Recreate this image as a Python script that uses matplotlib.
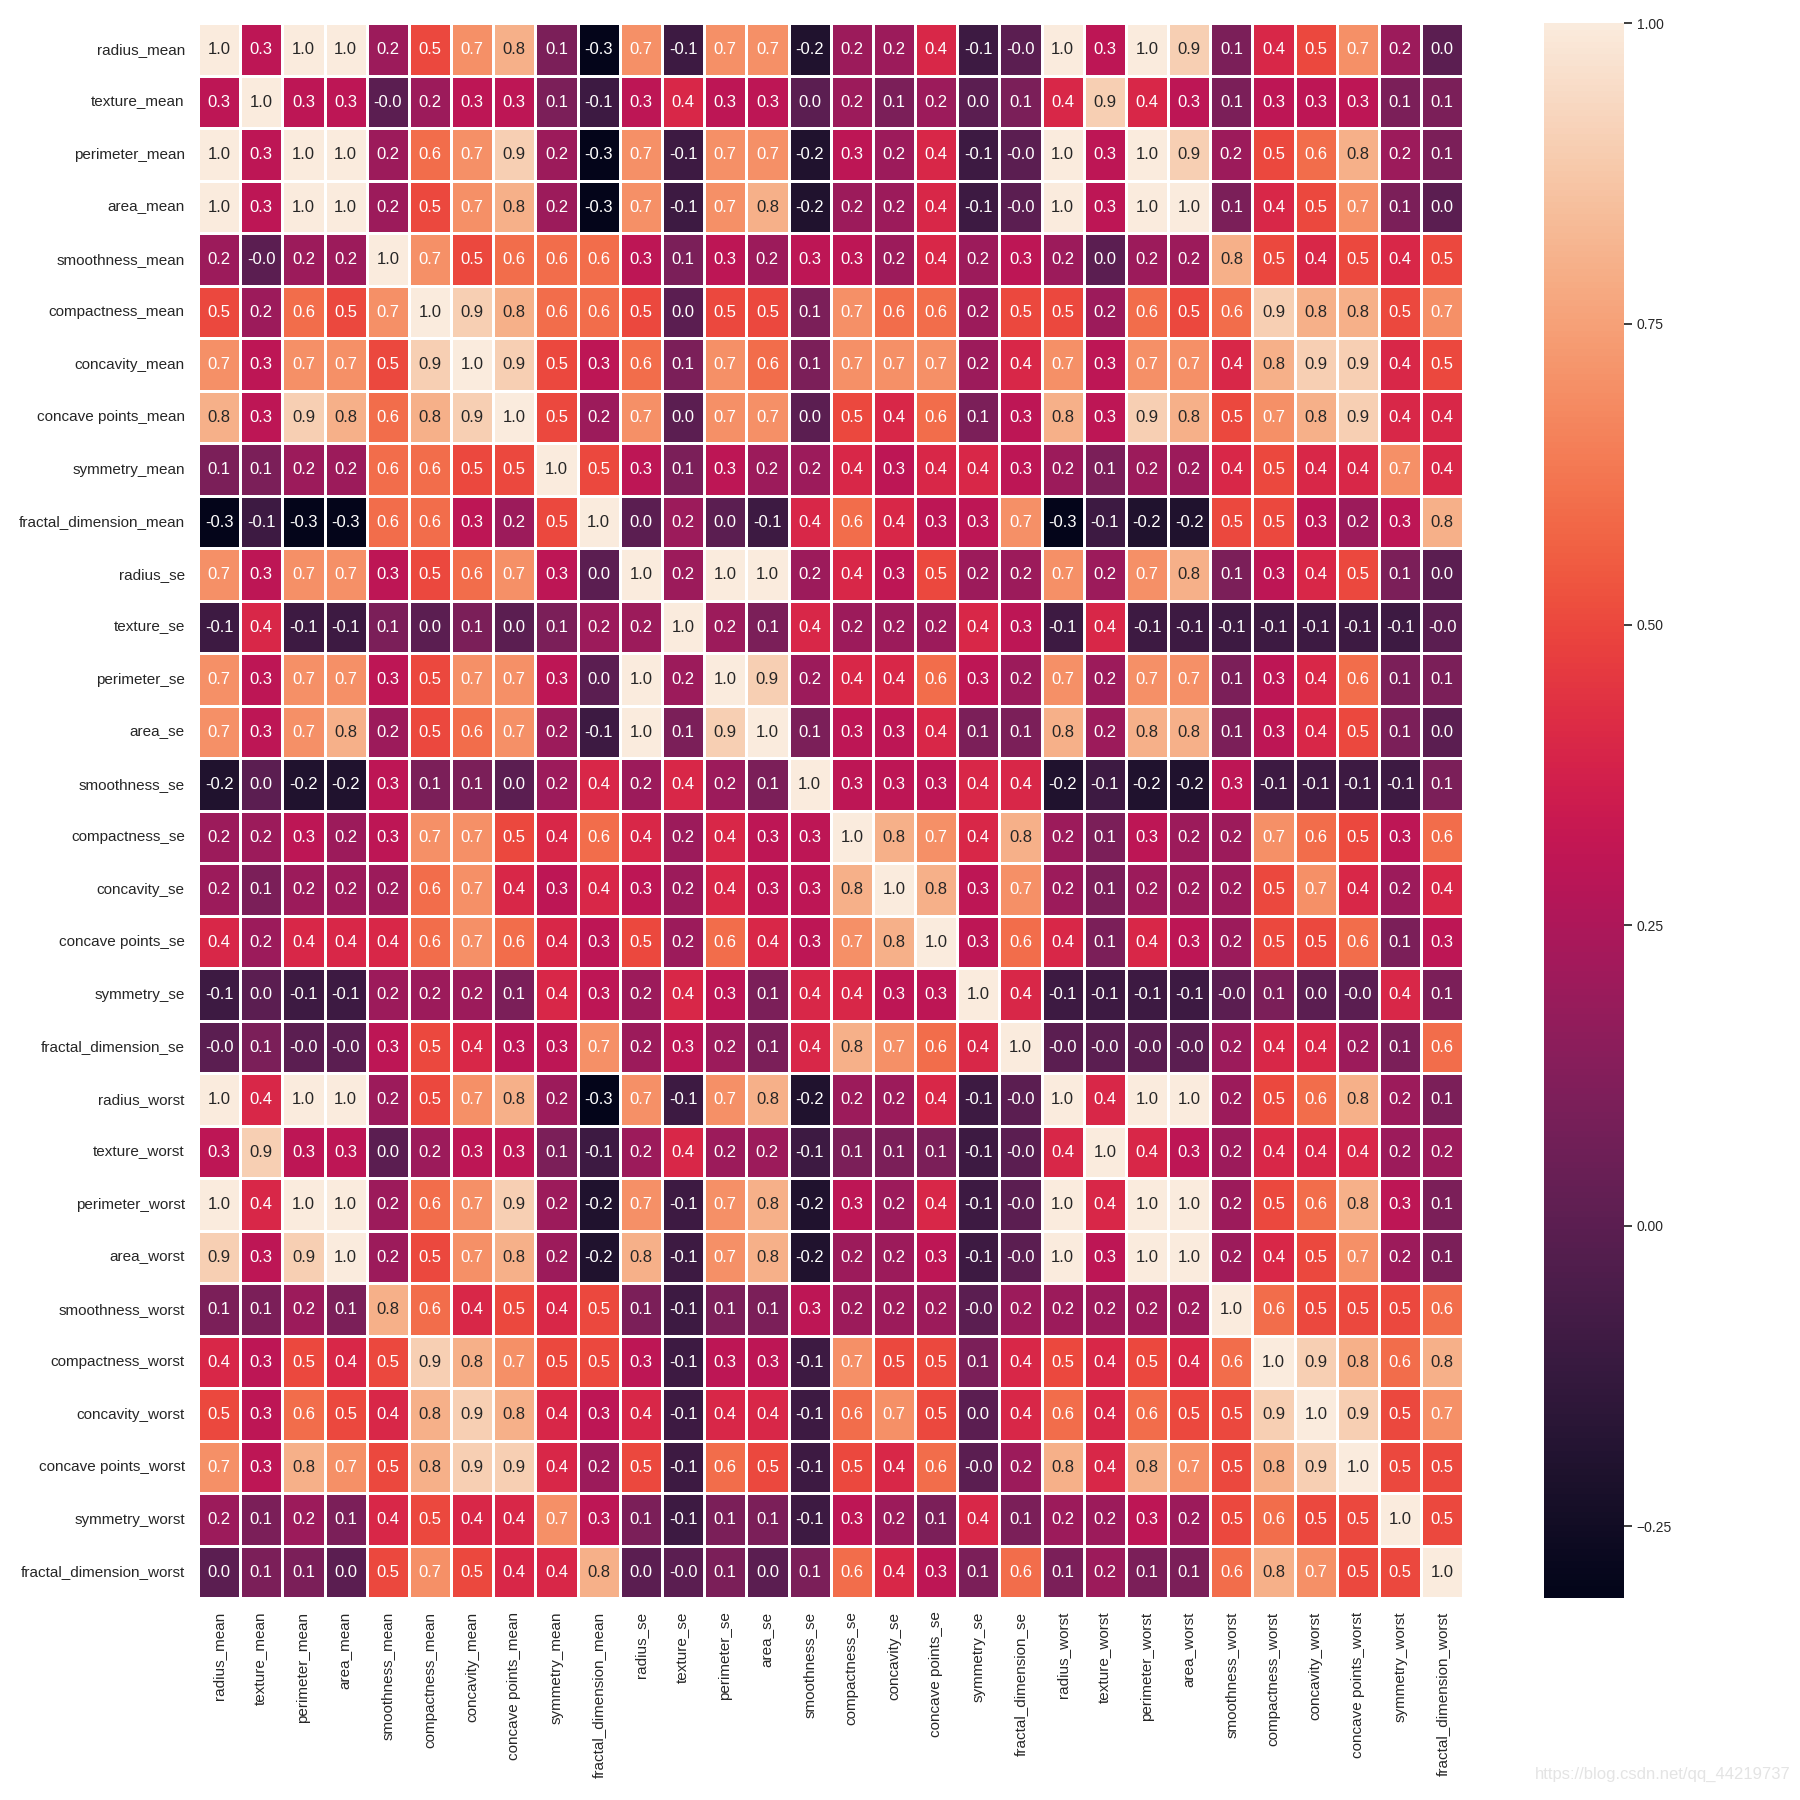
import numpy as np
import pandas as pd
import matplotlib
matplotlib.use('Agg')
import matplotlib.pyplot as plt
import seaborn as sns

# feature names of the breast cancer data set
features = ['radius_mean', 'texture_mean', 'perimeter_mean', 'area_mean',
            'smoothness_mean', 'compactness_mean', 'concavity_mean',
            'concave points_mean', 'symmetry_mean', 'fractal_dimension_mean',
            'radius_se', 'texture_se', 'perimeter_se', 'area_se', 'smoothness_se',
            'compactness_se', 'concavity_se', 'concave points_se', 'symmetry_se',
            'fractal_dimension_se', 'radius_worst', 'texture_worst',
            'perimeter_worst', 'area_worst', 'smoothness_worst',
            'compactness_worst', 'concavity_worst', 'concave points_worst',
            'symmetry_worst', 'fractal_dimension_worst']

# correlation values (one decimal)
radius_mean = [1.0, 0.3, 1.0, 1.0, 0.2, 0.5, 0.7, 0.8, 0.1, -0.3, 0.7, -0.1, 0.7, 0.7, -0.2, 0.2, 0.2, 0.4, -0.1, -0.0, 1.0, 0.3, 1.0, 0.9, 0.1, 0.4, 0.5, 0.7, 0.2, 0.0]
texture_mean = [0.3, 1.0, 0.3, 0.3, -0.0, 0.2, 0.3, 0.3, 0.1, -0.1, 0.3, 0.4, 0.3, 0.3, 0.0, 0.2, 0.1, 0.2, 0.0, 0.1, 0.4, 0.9, 0.4, 0.3, 0.1, 0.3, 0.3, 0.3, 0.1, 0.1]
perimeter_mean = [1.0, 0.3, 1.0, 1.0, 0.2, 0.6, 0.7, 0.9, 0.2, -0.3, 0.7, -0.1, 0.7, 0.7, -0.2, 0.3, 0.2, 0.4, -0.1, -0.0, 1.0, 0.3, 1.0, 0.9, 0.2, 0.5, 0.6, 0.8, 0.2, 0.1]
area_mean = [1.0, 0.3, 1.0, 1.0, 0.2, 0.5, 0.7, 0.8, 0.2, -0.3, 0.7, -0.1, 0.7, 0.8, -0.2, 0.2, 0.2, 0.4, -0.1, -0.0, 1.0, 0.3, 1.0, 1.0, 0.1, 0.4, 0.5, 0.7, 0.1, 0.0]
smoothness_mean = [0.2, -0.0, 0.2, 0.2, 1.0, 0.7, 0.5, 0.6, 0.6, 0.6, 0.3, 0.1, 0.3, 0.2, 0.3, 0.3, 0.2, 0.4, 0.2, 0.3, 0.2, 0.0, 0.2, 0.2, 0.8, 0.5, 0.4, 0.5, 0.4, 0.5]
compactness_mean = [0.5, 0.2, 0.6, 0.5, 0.7, 1.0, 0.9, 0.8, 0.6, 0.6, 0.5, 0.0, 0.5, 0.5, 0.1, 0.7, 0.6, 0.6, 0.2, 0.5, 0.5, 0.2, 0.6, 0.5, 0.6, 0.9, 0.8, 0.8, 0.5, 0.7]
concavity_mean = [0.7, 0.3, 0.7, 0.7, 0.5, 0.9, 1.0, 0.9, 0.5, 0.3, 0.6, 0.1, 0.7, 0.6, 0.1, 0.7, 0.7, 0.7, 0.2, 0.4, 0.7, 0.3, 0.7, 0.7, 0.4, 0.8, 0.9, 0.9, 0.4, 0.5]
concave_points_mean = [0.8, 0.3, 0.9, 0.8, 0.6, 0.8, 0.9, 1.0, 0.5, 0.2, 0.7, 0.0, 0.7, 0.7, 0.0, 0.5, 0.4, 0.6, 0.1, 0.3, 0.8, 0.3, 0.9, 0.8, 0.5, 0.7, 0.8, 0.9, 0.4, 0.4]
symmetry_mean = [0.1, 0.1, 0.2, 0.2, 0.6, 0.6, 0.5, 0.5, 1.0, 0.5, 0.3, 0.1, 0.3, 0.2, 0.2, 0.4, 0.3, 0.4, 0.4, 0.3, 0.2, 0.1, 0.2, 0.2, 0.4, 0.5, 0.4, 0.4, 0.7, 0.4]
fractal_dimension_mean = [-0.3, -0.1, -0.3, -0.3, 0.6, 0.6, 0.3, 0.2, 0.5, 1.0, 0.0, 0.2, 0.0, -0.1, 0.4, 0.6, 0.4, 0.3, 0.3, 0.7, -0.3, -0.1, -0.2, -0.2, 0.5, 0.5, 0.3, 0.2, 0.3, 0.8]
radius_se = [0.7, 0.3, 0.7, 0.7, 0.3, 0.5, 0.6, 0.7, 0.3, 0.0, 1.0, 0.2, 1.0, 1.0, 0.2, 0.4, 0.3, 0.5, 0.2, 0.2, 0.7, 0.2, 0.7, 0.8, 0.1, 0.3, 0.4, 0.5, 0.1, 0.0]
texture_se = [-0.1, 0.4, -0.1, -0.1, 0.1, 0.0, 0.1, 0.0, 0.1, 0.2, 0.2, 1.0, 0.2, 0.1, 0.4, 0.2, 0.2, 0.2, 0.4, 0.3, -0.1, 0.4, -0.1, -0.1, -0.1, -0.1, -0.1, -0.1, -0.1, -0.0]
perimeter_se = [0.7, 0.3, 0.7, 0.7, 0.3, 0.5, 0.7, 0.7, 0.3, 0.0, 1.0, 0.2, 1.0, 0.9, 0.2, 0.4, 0.4, 0.6, 0.3, 0.2, 0.7, 0.2, 0.7, 0.7, 0.1, 0.3, 0.4, 0.6, 0.1, 0.1]
area_se = [0.7, 0.3, 0.7, 0.8, 0.2, 0.5, 0.6, 0.7, 0.2, -0.1, 1.0, 0.1, 0.9, 1.0, 0.1, 0.3, 0.3, 0.4, 0.1, 0.1, 0.8, 0.2, 0.8, 0.8, 0.1, 0.3, 0.4, 0.5, 0.1, 0.0]
smoothness_se = [-0.2, 0.0, -0.2, -0.2, 0.3, 0.1, 0.1, 0.0, 0.2, 0.4, 0.2, 0.4, 0.2, 0.1, 1.0, 0.3, 0.3, 0.3, 0.4, 0.4, -0.2, -0.1, -0.2, -0.2, 0.3, -0.1, -0.1, -0.1, -0.1, 0.1]
compactness_se = [0.2, 0.2, 0.3, 0.2, 0.3, 0.7, 0.7, 0.5, 0.4, 0.6, 0.4, 0.2, 0.4, 0.3, 0.3, 1.0, 0.8, 0.7, 0.4, 0.8, 0.2, 0.1, 0.3, 0.2, 0.2, 0.7, 0.6, 0.5, 0.3, 0.6]
concavity_se = [0.2, 0.1, 0.2, 0.2, 0.2, 0.6, 0.7, 0.4, 0.3, 0.4, 0.3, 0.2, 0.4, 0.3, 0.3, 0.8, 1.0, 0.8, 0.3, 0.7, 0.2, 0.1, 0.2, 0.2, 0.2, 0.5, 0.7, 0.4, 0.2, 0.4]
concave_points_se = [0.4, 0.2, 0.4, 0.4, 0.4, 0.6, 0.7, 0.6, 0.4, 0.3, 0.5, 0.2, 0.6, 0.4, 0.3, 0.7, 0.8, 1.0, 0.3, 0.6, 0.4, 0.1, 0.4, 0.3, 0.2, 0.5, 0.5, 0.6, 0.1, 0.3]
symmetry_se = [-0.1, 0.0, -0.1, -0.1, 0.2, 0.2, 0.2, 0.1, 0.4, 0.3, 0.2, 0.4, 0.3, 0.1, 0.4, 0.4, 0.3, 0.3, 1.0, 0.4, -0.1, -0.1, -0.1, -0.1, -0.0, 0.1, 0.0, -0.0, 0.4, 0.1]
fractal_dimension_se = [-0.0, 0.1, -0.0, -0.0, 0.3, 0.5, 0.4, 0.3, 0.3, 0.7, 0.2, 0.3, 0.2, 0.1, 0.4, 0.8, 0.7, 0.6, 0.4, 1.0, -0.0, -0.0, -0.0, -0.0, 0.2, 0.4, 0.4, 0.2, 0.1, 0.6]
radius_worst = [1.0, 0.4, 1.0, 1.0, 0.2, 0.5, 0.7, 0.8, 0.2, -0.3, 0.7, -0.1, 0.7, 0.8, -0.2, 0.2, 0.2, 0.4, -0.1, -0.0, 1.0, 0.4, 1.0, 1.0, 0.2, 0.5, 0.6, 0.8, 0.2, 0.1]
texture_worst = [0.3, 0.9, 0.3, 0.3, 0.0, 0.2, 0.3, 0.3, 0.1, -0.1, 0.2, 0.4, 0.2, 0.2, -0.1, 0.1, 0.1, 0.1, -0.1, -0.0, 0.4, 1.0, 0.4, 0.3, 0.2, 0.4, 0.4, 0.4, 0.2, 0.2]
perimeter_worst = [1.0, 0.4, 1.0, 1.0, 0.2, 0.6, 0.7, 0.9, 0.2, -0.2, 0.7, -0.1, 0.7, 0.8, -0.2, 0.3, 0.2, 0.4, -0.1, -0.0, 1.0, 0.4, 1.0, 1.0, 0.2, 0.5, 0.6, 0.8, 0.3, 0.1]
area_worst = [0.9, 0.3, 0.9, 1.0, 0.2, 0.5, 0.7, 0.8, 0.2, -0.2, 0.8, -0.1, 0.7, 0.8, -0.2, 0.2, 0.2, 0.3, -0.1, -0.0, 1.0, 0.3, 1.0, 1.0, 0.2, 0.4, 0.5, 0.7, 0.2, 0.1]
smoothness_worst = [0.1, 0.1, 0.2, 0.1, 0.8, 0.6, 0.4, 0.5, 0.4, 0.5, 0.1, -0.1, 0.1, 0.1, 0.3, 0.2, 0.2, 0.2, -0.0, 0.2, 0.2, 0.2, 0.2, 0.2, 1.0, 0.6, 0.5, 0.5, 0.5, 0.6]
compactness_worst = [0.4, 0.3, 0.5, 0.4, 0.5, 0.9, 0.8, 0.7, 0.5, 0.5, 0.3, -0.1, 0.3, 0.3, -0.1, 0.7, 0.5, 0.5, 0.1, 0.4, 0.5, 0.4, 0.5, 0.4, 0.6, 1.0, 0.9, 0.8, 0.6, 0.8]
concavity_worst = [0.5, 0.3, 0.6, 0.5, 0.4, 0.8, 0.9, 0.8, 0.4, 0.3, 0.4, -0.1, 0.4, 0.4, -0.1, 0.6, 0.7, 0.5, 0.0, 0.4, 0.6, 0.4, 0.6, 0.5, 0.5, 0.9, 1.0, 0.9, 0.5, 0.7]
concave_points_worst = [0.7, 0.3, 0.8, 0.7, 0.5, 0.8, 0.9, 0.9, 0.4, 0.2, 0.5, -0.1, 0.6, 0.5, -0.1, 0.5, 0.4, 0.6, -0.0, 0.2, 0.8, 0.4, 0.8, 0.7, 0.5, 0.8, 0.9, 1.0, 0.5, 0.5]
symmetry_worst = [0.2, 0.1, 0.2, 0.1, 0.4, 0.5, 0.4, 0.4, 0.7, 0.3, 0.1, -0.1, 0.1, 0.1, -0.1, 0.3, 0.2, 0.1, 0.4, 0.1, 0.2, 0.2, 0.3, 0.2, 0.5, 0.6, 0.5, 0.5, 1.0, 0.5]
fractal_dimension_worst = [0.0, 0.1, 0.1, 0.0, 0.5, 0.7, 0.5, 0.4, 0.4, 0.8, 0.0, -0.0, 0.1, 0.0, 0.1, 0.6, 0.4, 0.3, 0.1, 0.6, 0.1, 0.2, 0.1, 0.1, 0.6, 0.8, 0.7, 0.5, 0.5, 1.0]

rows = [radius_mean, texture_mean, perimeter_mean, area_mean, smoothness_mean,
        compactness_mean, concavity_mean, concave_points_mean, symmetry_mean,
        fractal_dimension_mean, radius_se, texture_se, perimeter_se, area_se,
        smoothness_se, compactness_se, concavity_se, concave_points_se,
        symmetry_se, fractal_dimension_se, radius_worst, texture_worst,
        perimeter_worst, area_worst, smoothness_worst, compactness_worst,
        concavity_worst, concave_points_worst, symmetry_worst,
        fractal_dimension_worst]

corr = pd.DataFrame(np.array(rows), index=features, columns=features)

sns.set_theme()
plt.rcParams['font.family'] = ['Liberation Sans', 'DejaVu Sans']

fig = plt.figure(figsize=(18, 18), dpi=100)
ax = fig.add_axes([0.110, 0.112, 0.703, 0.875])
cax = fig.add_axes([0.858, 0.112, 0.044, 0.875])

sns.heatmap(corr, annot=True, fmt='.1f', linewidths=1, vmin=-0.31, vmax=1.0,
            ax=ax, cbar_ax=cax, annot_kws={'size': 12})
ax.tick_params(axis='both', labelsize=11)
cax.tick_params(labelsize=10)
cax.set_yticks([-0.25, 0.0, 0.25, 0.5, 0.75, 1.0])
cax.set_yticklabels(['\u22120.25', '0.00', '0.25', '0.50', '0.75', '1.00'])

# csdn watermark
fig.text(0.995, 0.01, 'https://blog.csdn.net/qq_44219737', ha='right',
         va='bottom', fontsize=12, color='#e4e4e4')

fig.savefig('out.png', dpi=100)
